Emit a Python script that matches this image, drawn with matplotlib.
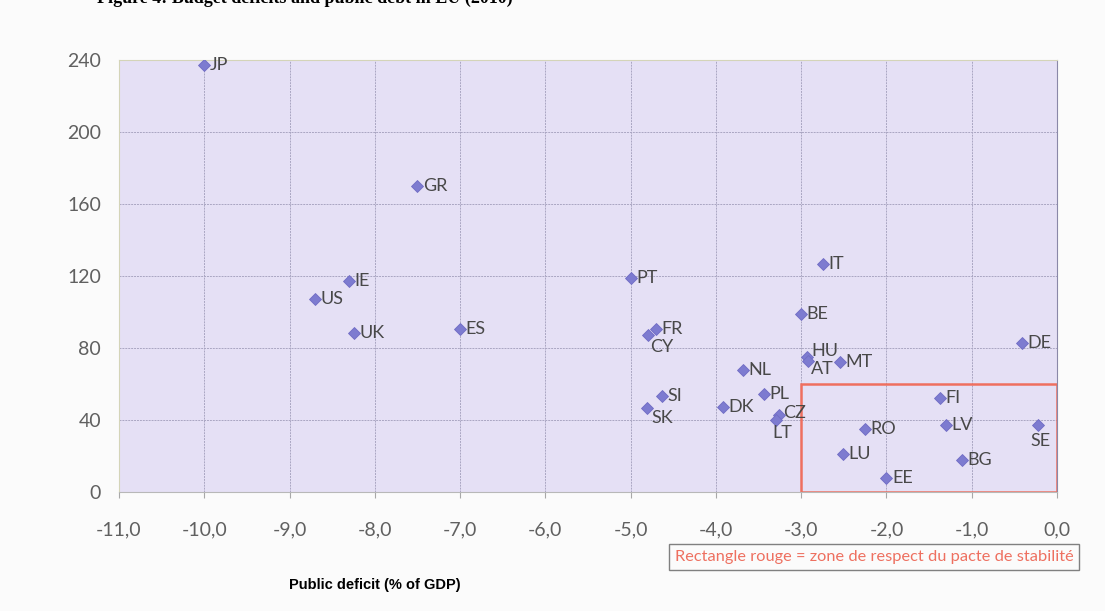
import matplotlib
matplotlib.use('Agg')
import matplotlib.pyplot as plt
from matplotlib.patches import Rectangle

# country codes, public deficit (% of GDP), public debt (% of GDP)
countries = ['JP', 'GR', 'IE', 'US', 'UK', 'ES', 'PT', 'FR', 'CY', 'IT', 'BE',
             'HU', 'AT', 'MT', 'NL', 'SI', 'SK', 'DK', 'PL', 'CZ', 'LT', 'DE',
             'FI', 'RO', 'LV', 'SE', 'LU', 'BG', 'EE']
deficit = [-10.0, -7.5, -8.3, -8.7, -8.25, -7.0, -5.0, -4.7, -4.8, -2.75, -3.0,
           -2.93, -2.92, -2.55, -3.68, -4.63, -4.81, -3.92, -3.44, -3.26, -3.29, -0.41,
           -1.37, -2.25, -1.3, -0.22, -2.51, -1.12, -2.0]
debt = [237, 170, 117.5, 107, 88.5, 90.5, 119, 90.5, 87.5, 126.5, 99,
        75, 73, 72, 68, 53.5, 46.5, 47.5, 54.5, 43, 40, 83,
        52.5, 35, 37, 37, 21, 18, 8]

# label offsets (points) where the label is not simply on the right
offsets = {'CY': (2, -9), 'HU': (3, 4), 'AT': (2, -6), 'SK': (3, -7),
           'LT': (-3, -9), 'CZ': (3, 1), 'SE': (-6, -11)}

xticks = [-11, -10, -9, -8, -7, -6, -5, -4, -3, -2, -1, 0]
yticks = [0, 40, 80, 120, 160, 200, 240]

fig = plt.figure(figsize=(11.05, 6.11), dpi=100, facecolor='#fbfbfb')
ax = fig.add_axes([0.1077, 0.1947, 0.8489, 0.7071])
ax.set_facecolor('#e5e0f5')

ax.plot(deficit, debt, linestyle='none', marker='D', ms=6.5,
        color='#7d7bd0', markeredgecolor='#706cc4', markeredgewidth=0.6, zorder=3)

for c, x, y in zip(countries, deficit, debt):
    dx, dy = offsets.get(c, (4, 0))
    ax.annotate(c, (x, y), xytext=(dx, dy), textcoords='offset points',
                ha='left', va='center', fontsize=13, family='Lato',
                color='#484848', zorder=4)

# stability pact zone
ax.add_patch(Rectangle((-3, 0), 3, 60, facecolor='none', edgecolor='#ef6f5f',
                       linewidth=1.8, zorder=2))

ax.set_xlim(-11, 0)
ax.set_ylim(0, 240)
ax.set_xticks(xticks)
ax.set_yticks(yticks)
ax.set_xticklabels([('%.1f' % v).replace('.', ',') for v in xticks])
ax.grid(True, color='#aaa6c2', linestyle=(0, (2, 1)), linewidth=0.7, zorder=1)
ax.set_axisbelow(True)

ax.tick_params(axis='y', length=0, pad=13, labelsize=14, labelcolor='#606060')
ax.tick_params(axis='x', length=4, color='#a8a8a8', pad=17, labelsize=14,
               labelcolor='#606060')
for lab in ax.get_xticklabels() + ax.get_yticklabels():
    lab.set_family('Lato')

for s in ['left', 'top']:
    ax.spines[s].set_color('#d4d4b8')
    ax.spines[s].set_linewidth(0.8)
ax.spines['bottom'].set_color('#b8b8b8')
ax.spines['bottom'].set_linewidth(0.8)
ax.spines['right'].set_color('#8a88a8')
ax.spines['right'].set_linewidth(0.8)

fig.text(0.088, 0.9945, 'Figure 4: Budget deficits and public debt in EU (2010)',
         family='Liberation Serif', weight='bold', fontsize=13, va='baseline')

fig.text(0.339, 0.042, 'Public deficit (% of GDP)', family='Liberation Sans',
         weight='bold', fontsize=10.5, ha='center', va='center')

fig.text(0.791, 0.088, 'Rectangle rouge = zone de respect du pacte de stabilité',
         family='Lato', fontsize=11.8, color='#ee7060', ha='center', va='center',
         bbox=dict(boxstyle='square,pad=0.35', facecolor='#fbfbfb',
                   edgecolor='#808080', linewidth=1))

fig.savefig('out.png', dpi=100, facecolor=fig.get_facecolor())
